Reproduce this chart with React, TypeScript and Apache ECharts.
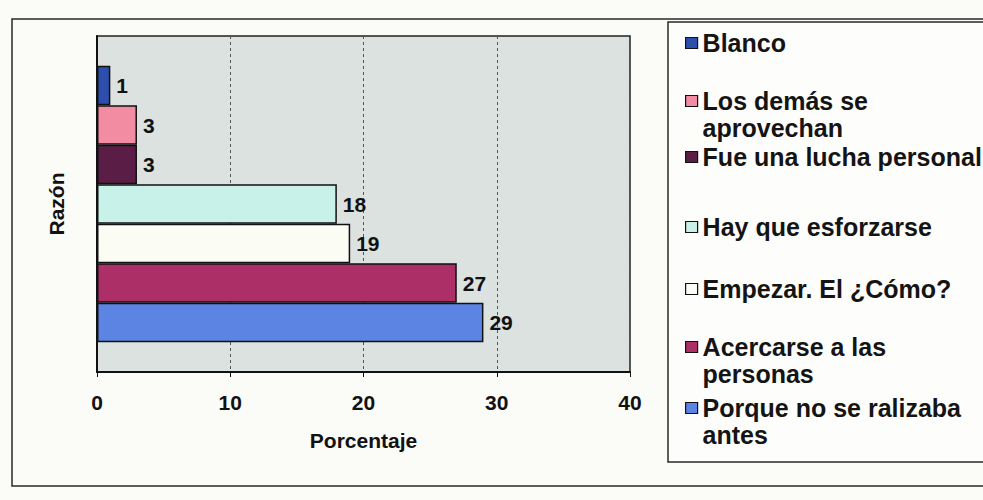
import React, { useEffect, useRef } from "react";
import * as echarts from "echarts";

const reasons = [
  "Blanco",
  "Los demás se aprovechan",
  "Fue una lucha personal",
  "Hay que esforzarse",
  "Empezar. El ¿Cómo?",
  "Acercarse a las personas",
  "Porque no se ralizaba antes",
];
const legendLines = [
  ["Blanco"],
  ["Los demás se", "aprovechan"],
  ["Fue una lucha personal"],
  ["Hay que esforzarse"],
  ["Empezar. El ¿Cómo?"],
  ["Acercarse a las", "personas"],
  ["Porque no se ralizaba", "antes"],
];
const percentages = [1, 3, 3, 18, 19, 27, 29];
const barColors = ["#2c4fae", "#f28ca3", "#5a1e46", "#c8f1e9", "#fbfcf4", "#ad2f68", "#5c84e2"];
const xTicks = [0, 10, 20, 30, 40];
const categoryName = ["Razón"];

// layout: first-line centre of each legend entry
const legendLineCenters = [43, 101, 157, 227, 289, 347, 408];

export default function App() {
  const ref = useRef<HTMLDivElement>(null);
  useEffect(() => {
    if (!ref.current) return;
    const chart = echarts.init(ref.current, undefined, { renderer: "svg" });
    const LH = 27;
    const legends = reasons.map((name, i) => {
      const multi = legendLines[i].length > 1;
      const text = multi ? "\n" + legendLines[i].join("\n") : legendLines[i][0];
      return {
        data: [name],
        left: 685,
        top: legendLineCenters[i] - (multi ? LH * 1.5 : LH / 2),
        orient: "vertical",
        padding: 0,
        itemWidth: 12,
        itemHeight: 11,
        icon: "rect",
        selectedMode: false,
        formatter: () => text,
        itemStyle: { borderColor: "#111", borderWidth: 1.2 },
        textStyle: {
          fontFamily: "Liberation Sans, Arial, sans-serif",
          fontWeight: "bold",
          fontSize: 25,
          lineHeight: LH,
          color: "#141414",
        },
      };
    });
    const series = reasons.map((name, i) => ({
      type: "bar",
      name,
      data: [percentages[i]],
      barWidth: 39.5,
      barGap: "0%",
      itemStyle: { color: barColors[i], borderColor: "#111", borderWidth: 1.5 },
      label: {
        show: true,
        position: "right",
        distance: 6,
        fontFamily: "Liberation Sans, Arial, sans-serif",
        fontWeight: "bold",
        fontSize: 21,
        color: "#111",
        formatter: (p: any) => String(p.value),
      },
    }));
    chart.setOption({
      animation: false,
      backgroundColor: "#fbfbf7",
      graphic: [
        {
          type: "rect",
          shape: { x: 12, y: 19, width: 1000, height: 467 },
          style: { fill: "none", stroke: "#2a2a2a", lineWidth: 1.5 },
          z: -1,
        },
        {
          type: "rect",
          shape: { x: 668, y: 22, width: 340, height: 440 },
          style: { fill: "#fdfdfb", stroke: "#2a2a2a", lineWidth: 1.5 },
          z: -1,
        },
      ],
      legend: legends,
      grid: {
        left: 97,
        right: 353,
        top: 36,
        bottom: 128,
        show: true,
        backgroundColor: "#dce2e0",
        borderColor: "#222",
        borderWidth: 1.5,
      },
      xAxis: {
        type: "value",
        min: xTicks[0],
        max: xTicks[xTicks.length - 1],
        interval: 10,
        name: "Porcentaje",
        nameLocation: "middle",
        nameGap: 58,
        nameTextStyle: {
          fontFamily: "Liberation Sans, Arial, sans-serif",
          fontWeight: "bold",
          fontSize: 21,
          color: "#111",
        },
        axisLine: { show: true, lineStyle: { color: "#111", width: 2 } },
        axisTick: { show: true, length: 5, lineStyle: { color: "#111" } },
        axisLabel: {
          margin: 20,
          fontFamily: "Liberation Sans, Arial, sans-serif",
          fontWeight: "bold",
          fontSize: 21,
          color: "#111",
        },
        splitLine: { show: true, lineStyle: { type: [3, 3], color: "#555", width: 1 } },
      },
      yAxis: {
        type: "category",
        data: categoryName,
        name: "Razón",
        nameLocation: "middle",
        nameGap: 30,
        nameRotate: 90,
        nameTextStyle: {
          fontFamily: "Liberation Sans, Arial, sans-serif",
          fontWeight: "bold",
          fontSize: 21,
          color: "#111",
        },
        axisLine: { show: true, lineStyle: { color: "#111", width: 2 } },
        axisTick: { show: false },
        axisLabel: { show: false },
      },
      series,
    });
    return () => chart.dispose();
  }, []);
  return <div ref={ref} style={{ width: 983, height: 500, position: "absolute", left: 0, top: 0 }} />;
}
